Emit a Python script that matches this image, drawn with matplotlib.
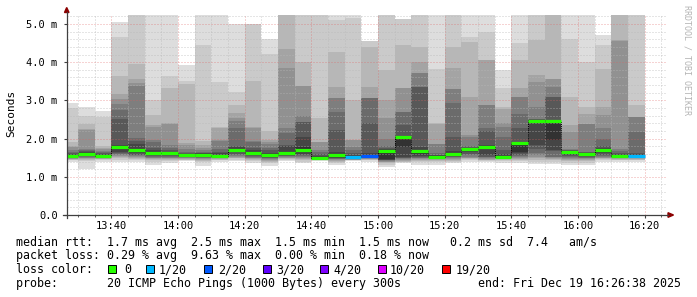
import matplotlib
matplotlib.use("Agg")
import matplotlib.pyplot as plt
from matplotlib.ticker import MultipleLocator, FixedLocator
from matplotlib.patches import Rectangle, Polygon
from matplotlib.lines import Line2D

W, H = 697, 297
MONO = "DejaVu Sans Mono"


def minutes(hhmm):
    h, m = hhmm.split(":")
    return int(h) * 60 + int(m)


# end time of each 5 minute step
bar_end = ["13:30", "13:35", "13:40", "13:45", "13:50", "13:55", "14:00",
           "14:05", "14:10", "14:15", "14:20", "14:25", "14:30", "14:35",
           "14:40", "14:45", "14:50", "14:55", "15:00", "15:05", "15:10",
           "15:15", "15:20", "15:25", "15:30", "15:35", "15:40", "15:45",
           "15:50", "15:55", "16:00", "16:05", "16:10", "16:15", "16:20"]

# median rtt in ms
median_ms = [1.54, 1.60, 1.55, 1.79, 1.71, 1.63, 1.61, 1.56, 1.58, 1.55,
             1.71, 1.61, 1.56, 1.61, 1.69, 1.49, 1.56, 1.51, 1.55, 1.68,
             2.05, 1.67, 1.53, 1.60, 1.72, 1.77, 1.53, 1.89, 2.47, 2.47,
             1.65, 1.59, 1.71, 1.55, 1.55]

# lost pings out of 20
loss = [0, 0, 0, 0, 0, 0, 0, 0, 0, 0, 0, 0, 0, 0, 0, 0, 0, 1, 2, 0,
        0, 0, 0, 0, 0, 0, 0, 0, 0, 0, 0, 0, 0, 0, 1]

# 20 sorted ping times (ms) per step
pings = [
    [1.40, 1.43, 1.45, 1.46, 1.47, 1.48, 1.49, 1.50, 1.51, 1.52, 1.56, 1.60, 1.63, 1.65, 1.70, 1.78, 1.80, 1.92, 2.80, 2.92],
    [1.20, 1.42, 1.44, 1.46, 1.48, 1.50, 1.52, 1.54, 1.56, 1.58, 1.62, 1.65, 1.67, 1.70, 1.74, 2.22, 2.24, 2.37, 2.58, 2.82],
    [1.38, 1.44, 1.46, 1.47, 1.48, 1.49, 1.50, 1.51, 1.52, 1.53, 1.56, 1.59, 1.61, 1.64, 1.68, 1.72, 1.76, 1.80, 2.56, 2.71],
    [1.38, 1.44, 1.48, 1.52, 1.55, 1.58, 1.60, 1.63, 1.66, 1.76, 1.81, 1.84, 2.52, 2.75, 2.90, 3.03, 3.18, 3.63, 4.65, 5.05],
    [1.38, 1.43, 1.47, 1.50, 1.52, 1.54, 1.56, 1.58, 1.62, 1.68, 1.74, 1.85, 1.95, 2.02, 3.38, 3.45, 3.56, 3.95, 5.50, 5.50],
    [1.32, 1.40, 1.43, 1.46, 1.48, 1.50, 1.53, 1.55, 1.57, 1.60, 1.66, 1.70, 1.75, 1.90, 1.97, 2.30, 2.35, 2.63, 3.00, 5.50],
    [1.36, 1.41, 1.44, 1.46, 1.48, 1.50, 1.52, 1.54, 1.56, 1.58, 1.63, 1.66, 1.70, 1.76, 1.82, 2.38, 2.42, 3.33, 3.65, 5.50],
    [1.42, 1.44, 1.45, 1.47, 1.48, 1.50, 1.51, 1.52, 1.53, 1.54, 1.58, 1.60, 1.62, 1.66, 1.72, 1.84, 1.88, 3.42, 3.50, 3.93],
    [1.29, 1.38, 1.42, 1.44, 1.46, 1.48, 1.50, 1.52, 1.54, 1.56, 1.59, 1.61, 1.63, 1.66, 1.70, 1.75, 1.82, 1.93, 4.45, 5.50],
    [1.40, 1.43, 1.45, 1.47, 1.48, 1.49, 1.50, 1.51, 1.52, 1.53, 1.58, 1.62, 1.66, 1.72, 1.94, 1.96, 2.28, 2.30, 3.48, 5.50],
    [1.42, 1.45, 1.48, 1.50, 1.52, 1.55, 1.57, 1.60, 1.64, 1.68, 1.74, 1.77, 1.80, 2.28, 2.46, 2.55, 2.66, 2.89, 3.22, 5.00],
    [1.37, 1.41, 1.44, 1.46, 1.48, 1.50, 1.52, 1.54, 1.56, 1.58, 1.64, 1.70, 1.76, 1.90, 1.93, 2.27, 2.30, 3.52, 5.00, 5.00],
    [1.29, 1.36, 1.40, 1.42, 1.44, 1.46, 1.48, 1.50, 1.52, 1.54, 1.58, 1.62, 1.70, 1.75, 1.85, 1.90, 1.96, 2.19, 4.22, 4.62],
    [1.42, 1.44, 1.46, 1.48, 1.50, 1.52, 1.54, 1.55, 1.56, 1.58, 1.65, 1.80, 1.83, 2.14, 2.27, 3.84, 4.34, 5.50, 5.50, 5.50],
    [1.36, 1.40, 1.44, 1.47, 1.50, 1.52, 1.55, 1.57, 1.60, 1.65, 1.79, 2.05, 2.44, 2.44, 2.59, 3.38, 3.38, 4.01, 5.50, 5.50],
    [1.42, 1.43, 1.44, 1.45, 1.45, 1.46, 1.46, 1.47, 1.47, 1.48, 1.51, 1.55, 1.60, 1.64, 1.70, 1.92, 1.92, 2.53, 5.50, 5.50],
    [1.30, 1.37, 1.40, 1.42, 1.44, 1.46, 1.47, 1.48, 1.50, 1.52, 1.60, 1.66, 2.23, 2.70, 3.05, 3.05, 3.36, 4.28, 5.10, 5.50],
    [1.42, 1.43, 1.44, 1.45, 1.45, 1.46, 1.47, 1.47, 1.48, 1.49, 1.53, 1.57, 1.62, 1.70, 1.79, 1.96, 1.96, 3.00, 5.15, 5.50],
    [1.40, 1.43, 1.45, 1.46, 1.47, 1.48, 1.49, 1.50, 1.52, 1.53, 1.58, 1.62, 2.40, 3.06, 3.06, 3.06, 3.36, 4.41, 4.56, 4.56],
    [1.25, 1.31, 1.35, 1.38, 1.40, 1.42, 1.43, 1.44, 1.45, 1.46, 1.70, 1.72, 1.76, 1.81, 1.98, 2.53, 3.01, 3.80, 5.50, 5.50],
    [1.35, 1.38, 1.40, 1.42, 1.44, 1.46, 1.48, 1.50, 1.53, 1.79, 2.06, 2.07, 2.35, 2.70, 2.70, 3.32, 3.32, 4.45, 5.12, 5.12],
    [1.32, 1.38, 1.41, 1.44, 1.46, 1.48, 1.50, 1.52, 1.55, 1.60, 1.70, 1.79, 3.36, 3.36, 3.73, 3.73, 4.01, 4.41, 5.50, 5.50],
    [1.32, 1.38, 1.42, 1.44, 1.46, 1.48, 1.49, 1.50, 1.51, 1.52, 1.54, 1.56, 1.58, 1.62, 1.85, 1.87, 2.38, 2.40, 3.81, 5.50],
    [1.35, 1.39, 1.42, 1.45, 1.47, 1.49, 1.51, 1.53, 1.55, 1.57, 1.63, 1.68, 2.05, 2.92, 3.29, 3.29, 3.84, 4.41, 5.50, 5.50],
    [1.40, 1.44, 1.46, 1.48, 1.50, 1.53, 1.56, 1.60, 1.64, 1.68, 1.74, 1.75, 1.77, 1.80, 2.05, 2.09, 3.10, 4.54, 4.67, 5.50],
    [1.40, 1.42, 1.43, 1.45, 1.47, 1.49, 1.51, 1.53, 1.56, 1.72, 1.80, 1.83, 2.20, 2.27, 2.88, 2.88, 4.06, 4.06, 4.80, 5.50],
    [1.36, 1.41, 1.44, 1.46, 1.47, 1.48, 1.49, 1.50, 1.51, 1.52, 1.55, 1.60, 1.70, 2.05, 2.30, 2.40, 2.78, 2.82, 3.32, 3.80],
    [1.37, 1.41, 1.44, 1.47, 1.50, 1.52, 1.55, 1.58, 1.62, 1.66, 1.90, 1.92, 2.27, 2.64, 3.08, 3.08, 3.32, 4.06, 4.49, 5.50],
    [1.33, 1.40, 1.45, 1.48, 1.52, 1.58, 1.62, 1.72, 1.82, 2.40, 2.49, 2.50, 2.50, 2.50, 2.83, 3.49, 3.66, 4.58, 5.50, 5.50],
    [1.33, 1.39, 1.43, 1.46, 1.49, 1.52, 1.53, 1.68, 1.70, 1.96, 2.49, 2.50, 3.08, 3.08, 3.36, 3.57, 3.57, 5.50, 5.50, 5.50],
    [1.31, 1.37, 1.41, 1.44, 1.47, 1.50, 1.52, 1.55, 1.58, 1.62, 1.67, 1.68, 1.69, 1.70, 1.72, 2.18, 2.35, 3.10, 4.62, 5.50],
    [1.31, 1.37, 1.41, 1.44, 1.46, 1.48, 1.50, 1.52, 1.54, 1.56, 1.61, 1.62, 1.64, 1.66, 2.38, 2.38, 2.64, 2.84, 4.01, 5.50],
    [1.40, 1.43, 1.46, 1.48, 1.50, 1.52, 1.55, 1.58, 1.62, 1.67, 1.72, 1.75, 1.80, 1.98, 2.27, 2.62, 2.84, 3.81, 4.45, 4.71],
    [1.40, 1.43, 1.45, 1.46, 1.48, 1.49, 1.50, 1.51, 1.52, 1.53, 1.57, 1.59, 1.62, 1.68, 1.74, 4.55, 4.58, 5.50, 5.50, 5.50],
    [1.40, 1.43, 1.45, 1.46, 1.48, 1.49, 1.50, 1.51, 1.52, 1.53, 1.57, 1.60, 1.62, 2.18, 2.57, 2.57, 2.57, 2.88, 5.50, 5.50],
]

loss_colors = {0: "#26ff00", 1: "#00b8ff", 2: "#0059ff", 3: "#5e00ff",
               4: "#7e00ff", 10: "#dd00ff", 19: "#ff0000"}
loss_labels = ["0", "1/20", "2/20", "3/20", "4/20", "10/20", "19/20"]

x_ticks = ["13:40", "14:00", "14:20", "14:40", "15:00", "15:20", "15:40", "16:00", "16:20"]
y_ticks = [0, 1, 2, 3, 4, 5]
y_labels = ["0.0", "1.0 m", "2.0 m", "3.0 m", "4.0 m", "5.0 m"]

t_start = minutes("13:26") + 38 / 60
t_end = t_start + 180
y_top = 200 / 38.2

fig = plt.figure(figsize=(W / 100, H / 100), dpi=100)
fig.patch.set_facecolor("white")
ax = fig.add_axes([66.7 / W, (H - 215) / H, 600 / W, 200 / H])

ends = [minutes(t) for t in bar_end]
starts = [e - 5 for e in ends]

# smoke: outer pairs light, inner pairs dark (smokeping style)
for i in range(10):
    shade = int(190 / 10 * (10 - (i + 1))) + 50
    col = "#%02x%02x%02x" % (shade, shade, shade)
    lo = [row[i] for row in pings]
    hi = [row[19 - i] for row in pings]
    ax.bar(starts, [h - l for h, l in zip(hi, lo)], bottom=lo, width=5,
           align="edge", color=col, linewidth=0, antialiased=False, zorder=1)

# median
edges = starts + [ends[-1]]
ax.stairs(median_ms, edges, baseline=None, color="black", lw=0.7,
          linestyle=(0, (1, 1)), zorder=3)
ax.hlines(median_ms, starts, ends, colors=[loss_colors[l] for l in loss],
          lw=2.3, capstyle="butt", zorder=4)

ax.set_xlim(t_start, t_end)
ax.set_ylim(0, y_top)
ax.set_facecolor("white")
for s in ax.spines.values():
    s.set_visible(False)

ax.xaxis.set_major_locator(FixedLocator([minutes(t) for t in x_ticks]))
ax.xaxis.set_minor_locator(MultipleLocator(5))
ax.set_xticklabels(x_ticks)
ax.yaxis.set_major_locator(FixedLocator(y_ticks))
ax.yaxis.set_minor_locator(MultipleLocator(0.2))
ax.set_yticklabels(y_labels)
ax.tick_params(which="both", labelsize=7.5, colors="#404040", labelcolor="black")
ax.tick_params(axis="x", which="major", length=2.5, pad=1.5)
ax.tick_params(axis="x", which="minor", length=1.5)
ax.tick_params(axis="y", which="major", length=2.5, pad=4)
ax.tick_params(axis="y", which="minor", length=0)
for lab in ax.get_xticklabels() + ax.get_yticklabels():
    lab.set_family(MONO)

ax.set_axisbelow(False)
ax.grid(which="minor", color="#b8b8b8", alpha=0.7, lw=0.72, linestyle=(0, (1, 2)))
ax.grid(which="major", color="#e06060", alpha=0.55, lw=0.72, linestyle=(0, (1, 2)))


def fx(x):
    return x / W


def fy(y):
    return 1 - y / H


# axis lines with arrows
fig.add_artist(Line2D([fx(66.7), fx(66.7)], [fy(218), fy(12)], color="#404040", lw=0.9))
fig.add_artist(Line2D([fx(63), fx(668)], [fy(215), fy(215)], color="#404040", lw=0.9))
fig.add_artist(Polygon([[fx(64.5), fy(12.5)], [fx(69), fy(12.5)], [fx(66.7), fy(7.5)]],
                       closed=True, color="#8b0000", transform=fig.transFigure))
fig.add_artist(Polygon([[fx(668), fy(212.7)], [fx(668), fy(217.3)], [fx(673.5), fy(215)]],
                       closed=True, color="#8b0000", transform=fig.transFigure))

fig.text(fx(11), fy(113.5), "Seconds", rotation=90, ha="center", va="center",
         family=MONO, fontsize=8)
fig.text(fx(686.5), fy(5), "RRDTOOL / TOBI OETIKER", rotation=270, ha="center",
         va="top", family=MONO, fontsize=6, color="#b4b4b4")

legend_lines = [
    "median rtt:  1.7 ms avg  2.5 ms max  1.5 ms min  1.5 ms now   0.2 ms sd  7.4   am/s",
    "packet loss: 0.29 % avg  9.63 % max  0.00 % min  0.18 % now",
    "loss color:",
    "probe:       20 ICMP Echo Pings (1000 Bytes) every 300s",
]
baselines = [245.7, 259.5, 273.3, 287.3]
for txt, yb in zip(legend_lines, baselines):
    fig.text(fx(16), fy(yb), txt, ha="left", va="baseline", family=MONO, fontsize=8.4)
fig.text(fx(681), fy(287.3), "end: Fri Dec 19 16:26:38 2025", ha="right",
         va="baseline", family=MONO, fontsize=8.4)

box_x = [108, 146, 204, 263, 320, 378, 442]
lab_x = [124, 159, 218, 276, 333, 390, 456]
for bx, lx, key, lab in zip(box_x, lab_x, [0, 1, 2, 3, 4, 10, 19], loss_labels):
    fig.add_artist(Rectangle((fx(bx), fy(273.3)), 8 / W, 8 / H, transform=fig.transFigure,
                             facecolor=loss_colors[key], edgecolor="black", lw=0.7))
    fig.text(fx(lx), fy(273.3), lab, ha="left", va="baseline", family=MONO, fontsize=8.4)

fig.savefig("out.png", dpi=100)
